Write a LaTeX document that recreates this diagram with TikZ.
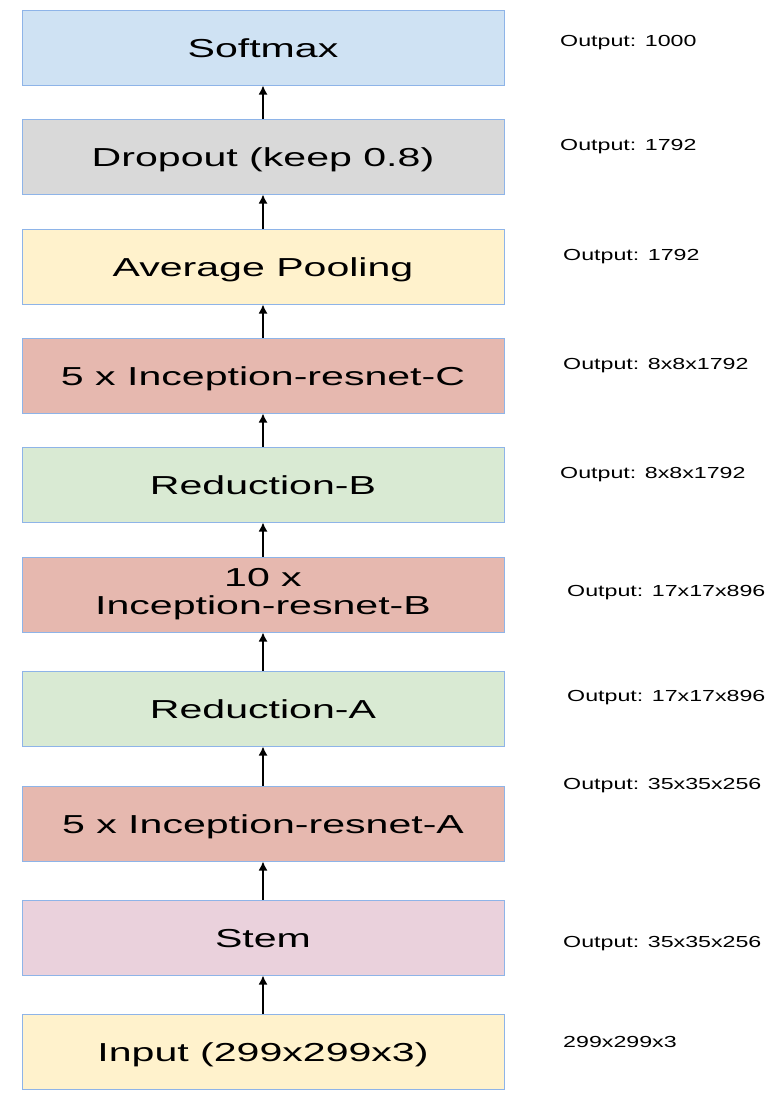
\documentclass[tikz,border=0pt]{standalone}
\usepackage{fontspec}
\setmainfont{Liberation Sans}
\newfontfamily\boxfont[FakeStretch=1.58]{Liberation Sans}
\newfontfamily\lblfont[FakeStretch=1.45]{Liberation Sans}
\usetikzlibrary{arrows.meta}
\definecolor{cblue}{HTML}{CFE2F3}
\definecolor{cgray}{HTML}{D9D9D9}
\definecolor{cyel}{HTML}{FFF2CC}
\definecolor{cred}{HTML}{E6B8AF}
\definecolor{cgreen}{HTML}{D9EAD3}
\definecolor{cpink}{HTML}{EAD1DC}
\definecolor{cborder}{HTML}{8EB4E8}
\tikzset{
  layer/.style={draw=cborder, line width=1pt, minimum width=482pt, minimum height=75pt,
    inner sep=0pt, align=center, font=\boxfont\fontsize{26}{28}\selectfont},
  oneline/.style={text height=19pt, text depth=0pt},
  outlbl/.style={anchor=west, inner sep=0pt, font=\lblfont\fontsize{16}{18}\selectfont},
  flow/.style={-{Latex[length=9pt,width=9pt]}, line width=1.5pt, black}
}
\begin{document}
\begin{tikzpicture}[x=1pt,y=-1pt]
\useasboundingbox (0,0) rectangle (776,1100);
\node[layer, oneline, fill=cblue]  (soft) at (263,47.5)   {Softmax};
\node[layer, oneline, fill=cgray]  (drop) at (263,156.5)  {Dropout (keep 0.8)};
\node[layer, oneline, fill=cyel]   (avg)  at (263,266.5)  {Average Pooling};
\node[layer, oneline, fill=cred]   (incc) at (263,375.5)  {5 x Inception-resnet-C};
\node[layer, oneline, fill=cgreen] (redb) at (263,484.5)  {Reduction-B};
\node[layer, fill=cred]            (incb) at (263,594.5)  {10 x\\Inception-resnet-B};
\node[layer, oneline, fill=cgreen] (reda) at (263,708.5)  {Reduction-A};
\node[layer, oneline, fill=cred]   (inca) at (263,823.5)  {5 x Inception-resnet-A};
\node[layer, oneline, fill=cpink]  (stem) at (263,937.5)  {Stem};
\node[layer, oneline, fill=cyel]   (inp)  at (263,1051.5) {Input (299x299x3)};

\foreach \a/\b in {drop/soft,avg/drop,incc/avg,redb/incc,incb/redb,reda/incb,inca/reda,stem/inca,inp/stem}
  \draw[flow] (\a.north) -- (\b.south);

\node[outlbl] (l1)  at (560,43)   {Output: 1000};
\node[outlbl] (l2)  at (560,147)  {Output: 1792};
\node[outlbl] (l3)  at (563,257)  {Output: 1792};
\node[outlbl] (l4)  at (563,366)  {Output: 8x8x1792};
\node[outlbl] (l5)  at (560,475)  {Output: 8x8x1792};
\node[outlbl] (l6)  at (567,593)  {Output: 17x17x896};
\node[outlbl] (l7)  at (567,698)  {Output: 17x17x896};
\node[outlbl] (l8)  at (563,786)  {Output: 35x35x256};
\node[outlbl] (l9)  at (563,944)  {Output: 35x35x256};
\node[outlbl] (l10) at (563,1042) {299x299x3};
\end{tikzpicture}
\end{document}
